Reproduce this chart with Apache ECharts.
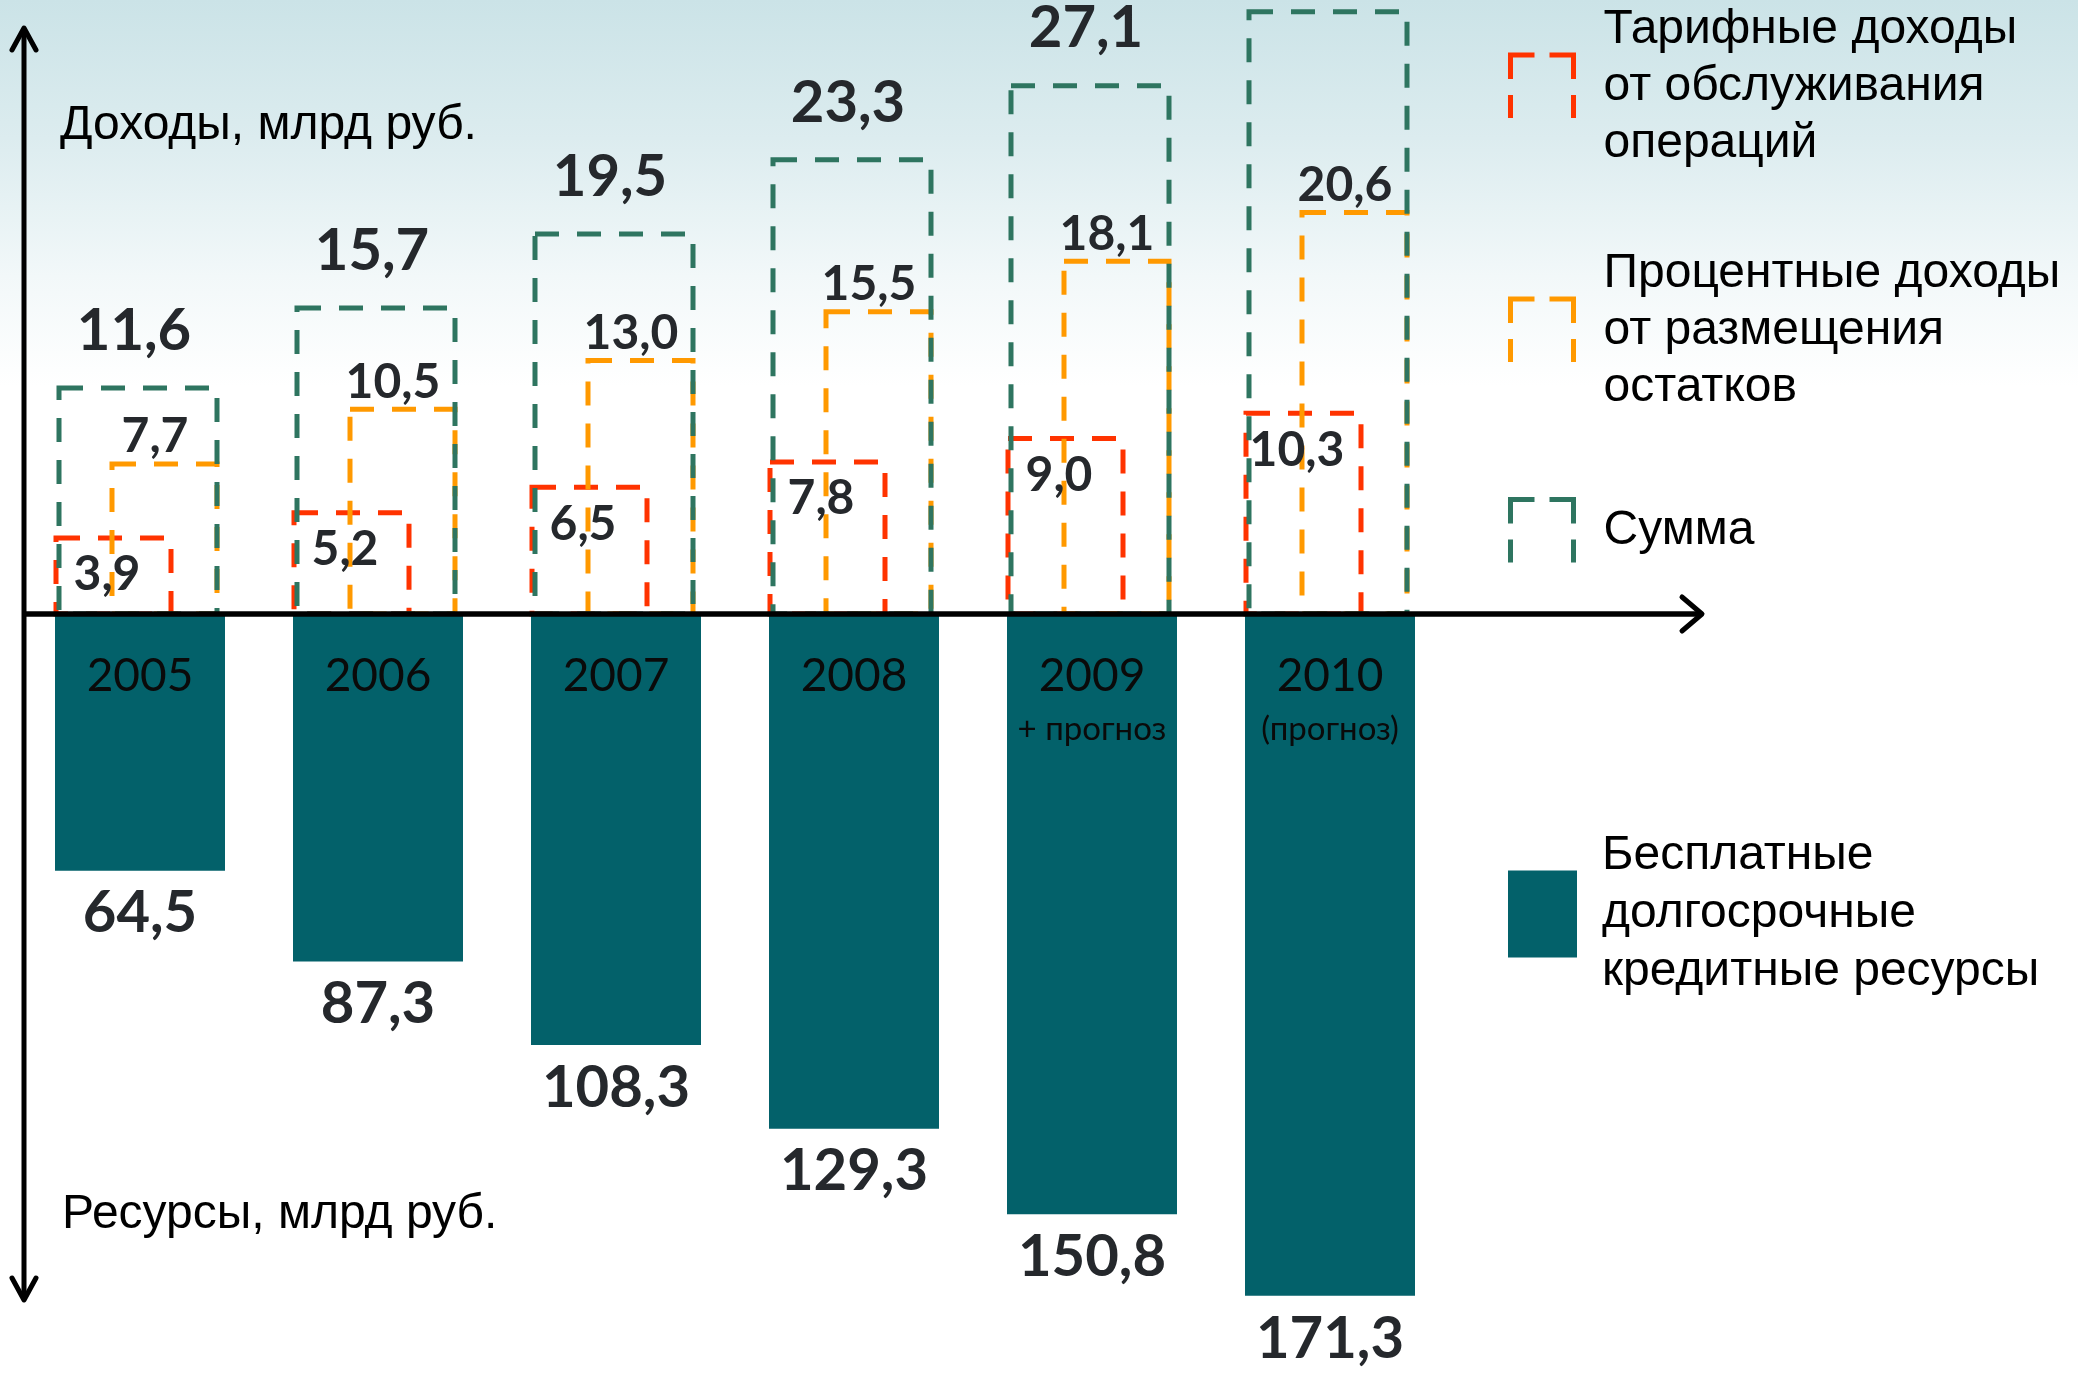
<!DOCTYPE html>
<html>
<head>
<meta charset="utf-8">
<script src="https://cdn.jsdelivr.net/npm/echarts@6/dist/echarts.min.js"></script>
<style>
html, body { margin: 0; padding: 0; }
#chart { width: 2078px; height: 1381px; }
</style>
</head>
<body>
<div id="chart"></div>
<script>
// данные
var years = ['2005', '2006', '2007', '2008', '2009', '2010'];
var yearNotes = ['', '', '', '', '+ прогноз', '(прогноз)'];
var tariffIncome = [3.9, 5.2, 6.5, 7.8, 9.0, 10.3];
var interestIncome = [7.7, 10.5, 13.0, 15.5, 18.1, 20.6];
var totalIncome = [11.6, 15.7, 19.5, 23.3, 27.1, 30.9];
var freeResources = [64.5, 87.3, 108.3, 129.3, 150.8, 171.3];

var RED = '#FF3300', ORANGE = '#FF9900', GREEN = '#2E7560', TEAL = '#03616A';
var LABEL = '#25282C';
var BAR_W = 170;
// пунктир значка легенды: верх, правый бок, низ (пусто), левый бок
var ICON_DASH = [24, 15, 48, 16, 23, 63, 23, 16, 24];

function fmt(v) {
  return Number(v).toFixed(1).replace('.', ',');
}

// пунктирный прямоугольник с подписью
function dashedBox(spec) {
  return function (params, api) {
    var idx = api.value(0);
    var val = api.value(1);
    var base = api.coord([idx, 0]);
    var top = api.coord([idx, val]);
    var left = base[0] - BAR_W / 2;
    return {
      type: 'group',
      children: [
        {
          type: 'rect',
          shape: { x: left + spec.from, y: top[1], width: spec.to - spec.from, height: base[1] - top[1] },
          style: { fill: 'none', stroke: spec.color, lineWidth: 5, lineDash: [24, 18] }
        },
        {
          type: 'text',
          z2: 100,
          style: {
            text: fmt(val),
            x: left + spec.labelX,
            y: top[1] + spec.labelDy,
            align: 'center',
            verticalAlign: 'middle',
            fontFamily: 'Lato',
            fontWeight: 'bold',
            fontSize: spec.fontSize,
            fill: LABEL
          }
        }
      ]
    };
  };
}

function pairs(arr) {
  return arr.map(function (v, i) { return [i, v]; });
}

var nameTariff = 'Тарифные доходы\nот обслуживания\nопераций';
var nameInterest = 'Процентные доходы\nот размещения\nостатков';
var nameTotal = 'Сумма';
var nameRes = 'Бесплатные\nдолгосрочные\nкредитные ресурсы';

var chart = echarts.init(document.getElementById('chart'));

function legendFor(name, top, icon) {
  return {
    data: [{ name: name, icon: 'rect', itemStyle: icon }],
    left: 1508,
    top: top,
    padding: 0,
    orient: 'vertical',
    selectedMode: false,
    itemWidth: icon.w || 63,
    itemHeight: icon.h || 63,
    textStyle: {
      fontFamily: 'Liberation Sans',
      fontSize: 48,
      lineHeight: icon.lh || 57,
      color: '#000',
      padding: [0, 0, 0, icon.pad || 25]
    }
  };
}

var titleStyle = { fontFamily: 'Liberation Sans', fontSize: 48, fontWeight: 'normal', color: '#000', lineHeight: 54 };

var option = {
  backgroundColor: new echarts.graphic.LinearGradient(0, 0, 0, 1, [
    { offset: 0, color: '#CBE3E7' },
    { offset: 0.1, color: '#DCECEF' },
    { offset: 0.2, color: '#F2F8F9' },
    { offset: 0.28, color: '#FFFFFF' },
    { offset: 1, color: '#FFFFFF' }
  ]),
  animation: false,
  title: [
    { text: 'Доходы, млрд руб.', left: 60, top: 99, padding: 0, textStyle: titleStyle },
    { text: 'Ресурсы, млрд руб.', left: 62, top: 1188, padding: 0, textStyle: titleStyle }
  ],
  legend: [
    legendFor(nameTariff, 1, { color: 'rgba(0,0,0,0)', borderColor: RED, borderWidth: 5, borderType: ICON_DASH }),
    legendFor(nameInterest, 245, { color: 'rgba(0,0,0,0)', borderColor: ORANGE, borderWidth: 5, borderType: ICON_DASH }),
    legendFor(nameTotal, 497, { color: 'rgba(0,0,0,0)', borderColor: GREEN, borderWidth: 5, borderType: ICON_DASH }),
    legendFor(nameRes, 827, { color: TEAL, w: 69, h: 87, lh: 58, pad: 20 })
  ],
  grid: [
    { left: 21, right: 629, top: 0, height: 614 },
    { left: 21, right: 629, top: 614, bottom: 0 }
  ],
  xAxis: [
    { type: 'category', gridIndex: 0, data: years, show: false },
    { type: 'category', gridIndex: 1, data: years, show: false }
  ],
  yAxis: [
    { type: 'value', gridIndex: 0, min: 0, max: 31.5, show: false },
    { type: 'value', gridIndex: 1, min: 0, max: 192.7, inverse: true, show: false }
  ],
  series: [
    {
      name: nameTariff,
      type: 'custom',
      xAxisIndex: 0, yAxisIndex: 0,
      itemStyle: { color: RED },
      encode: { x: 0, y: 1 },
      renderItem: dashedBox({ color: RED, from: 1, to: 116, labelX: 52, labelDy: 37, fontSize: 48 }),
      data: pairs(tariffIncome)
    },
    {
      name: nameInterest,
      type: 'custom',
      xAxisIndex: 0, yAxisIndex: 0,
      itemStyle: { color: ORANGE },
      encode: { x: 0, y: 1 },
      renderItem: dashedBox({ color: ORANGE, from: 57, to: 162, labelX: 100, labelDy: -27, fontSize: 48 }),
      data: pairs(interestIncome)
    },
    {
      name: nameTotal,
      type: 'custom',
      xAxisIndex: 0, yAxisIndex: 0,
      itemStyle: { color: GREEN },
      encode: { x: 0, y: 1 },
      renderItem: dashedBox({ color: GREEN, from: 4, to: 162, labelX: 79, labelDy: -57, fontSize: 58 }),
      data: pairs(totalIncome)
    },
    {
      name: nameRes,
      type: 'bar',
      xAxisIndex: 1, yAxisIndex: 1,
      barWidth: BAR_W,
      itemStyle: { color: TEAL },
      label: {
        show: true,
        position: 'bottom',
        distance: 14,
        fontFamily: 'Lato',
        fontWeight: 'bold',
        fontSize: 58,
        color: LABEL,
        formatter: function (p) { return fmt(p.value); }
      },
      data: freeResources
    },
    {
      // подписи годов внутри столбцов
      name: 'years',
      type: 'bar',
      xAxisIndex: 1, yAxisIndex: 1,
      barWidth: BAR_W,
      barGap: '-100%',
      silent: true,
      itemStyle: { color: 'rgba(0,0,0,0)' },
      label: {
        show: true,
        position: 'insideTop',
        distance: 35,
        formatter: function (p) {
          var note = yearNotes[p.dataIndex];
          return '{y|' + p.name + '}' + (note ? '\n{s|' + note + '}' : '');
        },
        rich: {
          y: { fontFamily: 'Lato', fontSize: 46, lineHeight: 54, color: '#0A0A0A' },
          s: { fontFamily: 'Lato', fontSize: 33, lineHeight: 52, color: '#0A0A0A' }
        }
      },
      data: freeResources
    }
  ],
  graphic: [
    { type: 'polyline', z: 100, shape: { points: [[24, 1300], [24, 28]] }, style: { stroke: '#000', lineWidth: 5, fill: null } },
    { type: 'polyline', z: 100, shape: { points: [[12, 50], [24, 28], [36, 50]] }, style: { stroke: '#000', lineWidth: 5, fill: null, lineCap: 'round', lineJoin: 'round' } },
    { type: 'polyline', z: 100, shape: { points: [[12, 1278], [24, 1300], [36, 1278]] }, style: { stroke: '#000', lineWidth: 5, fill: null, lineCap: 'round', lineJoin: 'round' } },
    { type: 'polyline', z: 100, shape: { points: [[22, 614], [1702, 614]] }, style: { stroke: '#000', lineWidth: 5.5, fill: null } },
    { type: 'polyline', z: 100, shape: { points: [[1682, 597], [1702, 614], [1682, 631]] }, style: { stroke: '#000', lineWidth: 5, fill: null, lineCap: 'round', lineJoin: 'round' } }
  ]
};

chart.setOption(option);
window.onresize = function () {
  chart.resize();
};
</script>
</body>
</html>
